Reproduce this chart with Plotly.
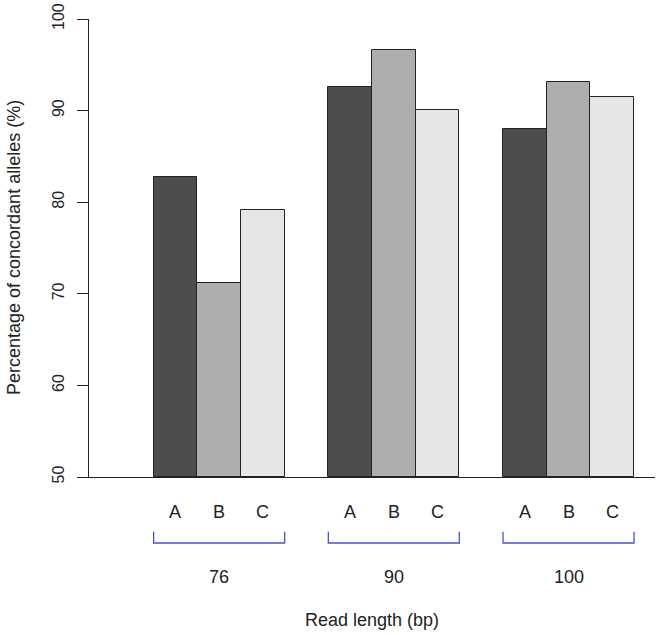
import plotly.graph_objects as go

groups = ["76", "90", "100"]
series = ["A", "B", "C"]
values_A = [82.7, 92.55, 87.95]
values_B = [71.2, 96.6, 93.1]
values_C = [79.1, 90.1, 91.5]
colors = ["#4D4D4D", "#AEAEAE", "#E6E6E6"]
y_ticks = [50, 60, 70, 80, 90, 100]
x_title = "Read length (bp)"
y_title = "Percentage of concordant alleles (%)"

all_vals = [values_A, values_B, values_C]
FONT = "Liberation Sans, Arial, sans-serif"

W, H = 661, 635
ML, MR, MT, MB = 89, 6, 19, 158

fig = go.Figure()
for j, (name, vals) in enumerate(zip(series, all_vals)):
    xs = [1 + i * 4 + j + 0.5 for i in range(len(groups))]
    fig.add_trace(go.Bar(
        x=xs, y=[v - 50 for v in vals], base=50, width=1,
        marker=dict(color=colors[j], line=dict(color="#222222", width=1)),
        name=name, showlegend=False,
    ))

annotations = []
shapes = []
for i, g in enumerate(groups):
    left = 1 + i * 4
    right = left + 3
    for j, s in enumerate(series):
        annotations.append(dict(x=left + j + 0.5, y=-0.0775, xref="x", yref="paper",
                                text=s, showarrow=False, yanchor="middle",
                                font=dict(size=18, color="#222222", family=FONT)))
    annotations.append(dict(x=left + 1.5, y=-0.218, xref="x", yref="paper",
                            text=g, showarrow=False, yanchor="middle",
                            font=dict(size=18, color="#222222", family=FONT)))
    shapes.append(dict(type="path", xref="x", yref="paper",
                       path=f"M {left},-0.1196 L {left},-0.1441 L {right},-0.1441 L {right},-0.1196",
                       line=dict(color="#4E4EDE", width=1.3)))

annotations.append(dict(x=0.5, y=-0.312, xref="paper", yref="paper", text=x_title,
                        showarrow=False, yanchor="middle",
                        font=dict(size=18, color="#222222", family=FONT)))
annotations.append(dict(x=-0.1325, y=0.5, xref="paper", yref="paper", text=y_title,
                        showarrow=False, textangle=-90, xanchor="center", yanchor="middle",
                        font=dict(size=18, color="#222222", family=FONT)))

fig.update_layout(
    width=W, height=H,
    margin=dict(l=ML, r=MR, t=MT, b=MB, autoexpand=False),
    paper_bgcolor="white", plot_bgcolor="white",
    bargap=0, barmode="overlay",
    xaxis=dict(range=[-0.48, 12.48], showgrid=False, zeroline=False, showline=True,
               linecolor="#222222", linewidth=1, showticklabels=False, ticks="",
               automargin=False),
    yaxis=dict(range=[50, 100], tickvals=y_ticks, showgrid=False, zeroline=False,
               showline=True, linecolor="#222222", linewidth=1, ticks="outside",
               ticklen=11, tickcolor="#222222", tickangle=-90, automargin=False,
               ticklabelstandoff=7, ticklabeloverflow="allow",
               tickfont=dict(size=16, color="#222222", family=FONT)),
    annotations=annotations, shapes=shapes,
    font=dict(family=FONT),
)
fig.write_html("out.html", config={"displayModeBar": False},
               post_script="document.body.style.margin='0px';")
